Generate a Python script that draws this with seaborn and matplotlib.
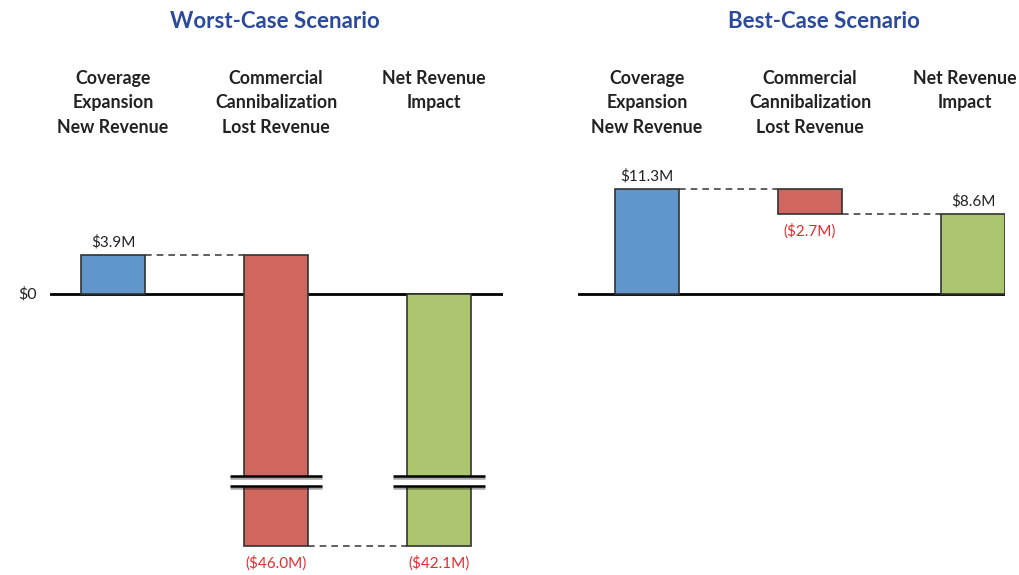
import numpy as np
import matplotlib
matplotlib.use("Agg")
import matplotlib.pyplot as plt
import matplotlib.patheffects as pe
import seaborn as sns

# data
categories = ["Coverage\nExpansion\nNew Revenue",
              "Commercial\nCannibalization\nLost Revenue",
              "Net Revenue\nImpact"]
worst_values = [3.9, -46.0, -42.1]
best_values = [11.3, -2.7, 8.6]
panel_titles = ["Worst-Case Scenario", "Best-Case Scenario"]

bar_colors = ["#6197cd", "#cf675f", "#abc66f"]
neg_color = "#ec2a2e"
title_color = "#2b4a9b"

sns.set_style("white")
plt.rcParams['font.family'] = ['Lato', 'DejaVu Sans']

# broken axis for the worst case: compress everything below the break
BREAK = -18.7
K = 0.278


def fwd(v):
    v = np.asarray(v, dtype=float)
    return np.where(v >= BREAK, v, BREAK + (v - BREAK) * K)


def inv(t):
    t = np.asarray(t, dtype=float)
    return np.where(t >= BREAK, t, BREAK + (t - BREAK) / K)


def waterfall_bottoms(values):
    # first and last bars start at zero, the middle one hangs off the first
    return [0.0, values[0], 0.0]


def fmt_money(v):
    if v < 0:
        return f"(${abs(v):.1f}M)"
    return f"${v:.1f}M"


def draw_panel(ax, values, title, title_x, xlim, ylim, header_shift, broken=False):
    bottoms = waterfall_bottoms(values)
    width = 0.39
    sns.barplot(x=categories, y=values, order=categories, bottom=bottoms,
                width=width, edgecolor="#333333", linewidth=1.2,
                color=bar_colors[0], ax=ax, zorder=2)
    for patch, c in zip(ax.patches, bar_colors):
        patch.set_facecolor(c)

    if broken:
        ax.set_yscale("function", functions=(fwd, inv))
    ax.set_xlim(*xlim)
    ax.set_ylim(*ylim)
    ax.axis("off")

    # zero line
    ax.axhline(0, color="black", lw=2, zorder=1)

    # connectors
    for i in range(len(values) - 1):
        level = bottoms[i] + values[i]
        ax.plot([i + width / 2, i + 1 - width / 2], [level, level],
                ls=(0, (4, 3)), color="#444444", lw=1.2, zorder=1)

    # value labels
    for i, v in enumerate(values):
        end = bottoms[i] + v
        if v >= 0:
            ax.annotate(fmt_money(v), (i, end), xytext=(0, 4),
                        textcoords="offset points", ha="center", va="bottom",
                        fontsize=11, color="#222222")
        else:
            ax.annotate(fmt_money(v), (i, end), xytext=(0, -7),
                        textcoords="offset points", ha="center", va="top",
                        fontsize=11, color=neg_color)

    # column headers
    for i, cat in enumerate(categories):
        ax.annotate(cat, (i + header_shift[i], 0.878), xycoords=("data", "figure fraction"),
                    ha="center", va="top", fontsize=12.8, fontweight="bold",
                    color="#222222", linespacing=1.52)

    ax.annotate(title, (title_x, 0.962), xycoords=("data", "figure fraction"),
                ha="center", va="center", fontsize=16, fontweight="bold",
                color=title_color)

    if broken:
        y_hi = -18.2
        y_lo = float(inv(-19.2))
        for i, v in enumerate(values):
            if bottoms[i] + v < BREAK:
                xs = [i - 0.285, i + 0.285]
                ax.fill_between(xs, y_lo, y_hi, color="white", zorder=3)
                for y in (y_hi, y_lo):
                    ax.plot(xs, [y, y], color="black", lw=1.8, zorder=4,
                            solid_capstyle="butt",
                            path_effects=[pe.SimpleLineShadow(offset=(0, -1.5), alpha=0.35),
                                          pe.Normal()])


fig = plt.figure(figsize=(10.19, 5.75), dpi=100)
ax_top_px = 140
ax_h = (575 - ax_top_px) / 575
ax1 = fig.add_axes([50 / 1019, 0, 453 / 1019, ax_h])
ax2 = fig.add_axes([578 / 1019, 0, 427 / 1019, ax_h])

zero_px = 294
# left: 10 px per $M
left_top = (zero_px - ax_top_px) / 10
left_bot = float(inv(-(575 - zero_px) / 10))
draw_panel(ax1, worst_values, panel_titles[0], 0.99,
           (-0.387, 2.393), (left_bot, left_top), (0.0, 0.0, -0.03), broken=True)
ax1.text(-0.47, 0, "$0", ha="right", va="center", fontsize=11.5,
         color="#222222", clip_on=False)

# right: 9.3 px per $M
right_top = (zero_px - ax_top_px) / 9.3
right_bot = -(575 - zero_px) / 9.3
draw_panel(ax2, best_values, panel_titles[1], 1.086,
           (-0.423, 2.196), (right_bot, right_top), (0.0, 0.0, -0.05))

fig.savefig("out.png", dpi=100)
